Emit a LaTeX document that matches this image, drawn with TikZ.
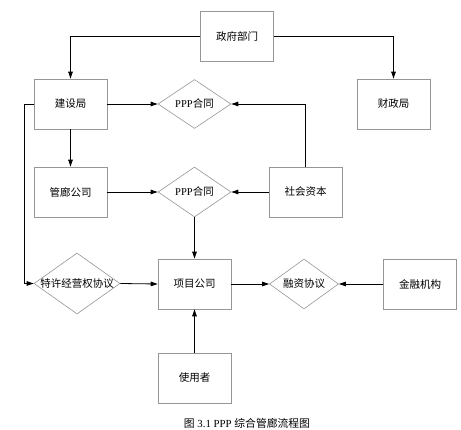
\documentclass[tikz,border=0pt]{standalone}
\usepackage{fontspec}
\setmainfont{Liberation Serif}
\newfontfamily\cjk{Noto Sans CJK SC}
\usetikzlibrary{shapes.geometric,arrows.meta}
\definecolor{boxgray}{RGB}{150,150,150}
\tikzset{
  box/.style={draw=boxgray,line width=0.6pt,fill=white,minimum width=73pt,minimum height=50pt,inner sep=0pt},
  dia/.style={draw=boxgray,line width=0.6pt,fill=white,diamond,inner sep=0pt},
  lbl/.style={font=\fontsize{10.5pt}{12pt}\selectfont,inner sep=0pt},
  arr/.style={draw=black,line width=0.8pt,-{Triangle[length=7pt,width=4.5pt]}},
}
\begin{document}
\begin{tikzpicture}[x=1pt,y=-1pt]
\useasboundingbox (0,0) rectangle (461,430);
% boxes
\node[box] (gov) at (237,36.5) {};
\node[lbl] at (gov) {\cjk 政府部门};
\node[box] (jsj) at (70.5,104) {};
\node[lbl] at (jsj) {\cjk 建设局};
\node[box] (czj) at (393.5,104) {};
\node[lbl] at (czj) {\cjk 财政局};
\node[box] (glgs) at (70.5,192) {};
\node[lbl] at (glgs) {\cjk 管廊公司};
\node[box] (shzb) at (305.5,192) {};
\node[lbl] at (shzb) {\cjk 社会资本};
\node[box] (xmgs) at (194.5,284) {};
\node[lbl] at (xmgs) {\cjk 项目公司};
\node[box] (jrjg) at (420,284) {};
\node[lbl] at (jrjg) {\cjk 金融机构};
\node[box] (syz) at (194.5,378) {};
\node[lbl] at (syz) {\cjk 使用者};
% diamonds
\node[dia,minimum width=73pt,minimum height=49pt] (ppp1) at (194.5,104) {};
\node[lbl] at (ppp1) {PPP{\cjk 合同}};
\node[dia,minimum width=73pt,minimum height=50pt] (ppp2) at (194.5,192) {};
\node[lbl] at (ppp2) {PPP{\cjk 合同}};
\node[dia,minimum width=86pt,minimum height=61pt] (tx) at (77,283.5) {};
\node[lbl] at (tx) {\cjk 特许经营权协议};
\node[dia,minimum width=69pt,minimum height=50pt] (rz) at (304,284) {};
\node[lbl] at (rz) {\cjk 融资协议};
% connectors
\coordinate (lft) at (24.3,104);
\draw[arr] (gov.west) -| (jsj.north);
\draw[arr] (gov.east) -| (czj.north);
\draw[arr] (jsj.east) -- (ppp1.west);
\draw[arr] (shzb.north) |- (ppp1.east);
\draw[arr] (jsj.south) -- (glgs.north);
\draw[arr] (glgs.east) -- (ppp2.west);
\draw[arr] (shzb.west) -- (ppp2.east);
\draw[arr] (ppp2.south) -- (xmgs.north);
\draw[arr] (jsj.west) -- (lft) |- (tx.west);
\draw[arr] (tx.east) -- (xmgs.west);
\draw[arr] (xmgs.east) -- (rz.west);
\draw[arr] (jrjg.west) -- (rz.east);
\draw[arr] (syz.north) -- (xmgs.south);
% caption
\node[font=\fontsize{10.8pt}{13pt}\selectfont,inner sep=0pt] (cap) at (247,423) {{\cjk 图} 3.1 PPP {\cjk 综合管廊流程图}};
\end{tikzpicture}
\end{document}
